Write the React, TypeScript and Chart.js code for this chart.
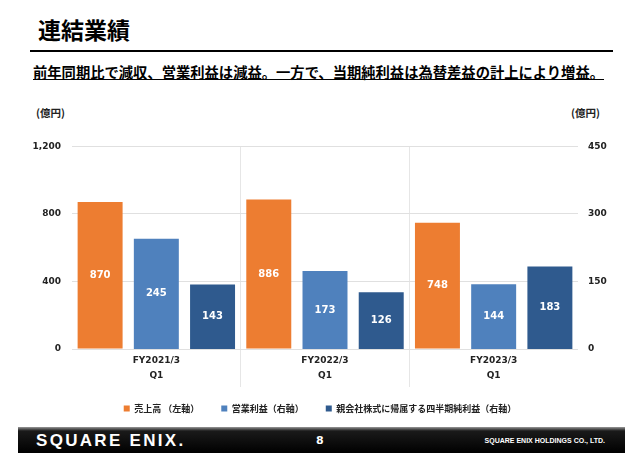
import React, { useEffect, useRef } from "react";
import { Chart, registerables } from "chart.js";

Chart.register(...registerables);

const categories: string[][] = [["FY2021/3", "Q1"], ["FY2022/3", "Q1"], ["FY2023/3", "Q1"]];
const salesLabel = "売上高 （左軸）";
const opLabel = "営業利益（右軸）";
const netLabel = "親会社株式に帰属する四半期純利益（右軸）";
const sales = [870, 886, 748];
const operatingIncome = [245, 173, 144];
const netIncome = [143, 126, 183];
const leftTicks = [0, 400, 800, 1200];
const rightTicks = [0, 150, 300, 450];

const CJK = '"Noto Sans CJK JP", "DejaVu Sans", sans-serif';
const NUM = '"DejaVu Sans", sans-serif';

const valueLabels = {
  id: "valueLabels",
  afterDatasetsDraw(chart: any) {
    const ctx = chart.ctx;
    ctx.save();
    ctx.fillStyle = "#ffffff";
    ctx.font = "bold 10px " + NUM;
    ctx.textAlign = "center";
    ctx.textBaseline = "middle";
    chart.data.datasets.forEach((ds: any, di: number) => {
      const meta = chart.getDatasetMeta(di);
      meta.data.forEach((bar: any, i: number) => {
        const y = (bar.y + bar.base) / 2;
        ctx.fillText(String(ds.data[i]), bar.x, y);
      });
    });
    ctx.restore();
  },
};

export default function App() {
  const ref = useRef<HTMLCanvasElement>(null);
  useEffect(() => {
    document.body.style.margin = "0";
    const chart = new Chart(ref.current!, {
      type: "bar",
      data: {
        labels: categories,
        datasets: [
          { label: salesLabel, data: sales, backgroundColor: "#ED7D31", yAxisID: "y" },
          { label: opLabel, data: operatingIncome, backgroundColor: "#4F81BD", yAxisID: "y1" },
          { label: netLabel, data: netIncome, backgroundColor: "#2F5A8E", yAxisID: "y1" },
        ],
      },
      options: {
        animation: false,
        responsive: false,
        maintainAspectRatio: false,
        layout: { padding: { top: 4, bottom: 7, left: 0, right: 0 } },
        datasets: { bar: { categoryPercentage: 1.0, barPercentage: 0.8 } },
        plugins: {
          tooltip: { enabled: false },
          legend: {
            position: "bottom",
            labels: {
              boxWidth: 6,
              boxHeight: 6,
              padding: 22,
              color: "#222",
              font: { family: CJK, size: 9, weight: "bold" },
            },
          },
        },
        scales: {
          x: {
            grid: {
              offset: true,
              drawTicks: true,
              tickLength: 38,
              color: (c: any) => (c.index === 1 || c.index === 2 ? "#e6e6e6" : "transparent"),
              lineWidth: 1,
            },
            border: { display: false },
            ticks: {
              padding: -34,
              color: "#222",
              font: { family: NUM, size: 9, weight: "bold", lineHeight: 1.65 },
              maxRotation: 0,
            },
            afterFit: (s: any) => { s.height = 33; },
          },
          y: {
            position: "left",
            min: 0,
            max: 1200,
            afterBuildTicks: (s: any) => { s.ticks = leftTicks.map((v) => ({ value: v })); },
            ticks: {
              padding: 11,
              color: "#222",
              font: { family: NUM, size: 9, weight: "bold" },
              callback: (v: any) => Number(v).toLocaleString("en-US"),
            },
            grid: { color: "#e0e0e0", drawTicks: false, lineWidth: 1 },
            border: { display: false },
            afterFit: (s: any) => { s.width = 72; },
          },
          y1: {
            position: "right",
            min: 0,
            max: 450,
            afterBuildTicks: (s: any) => { s.ticks = rightTicks.map((v) => ({ value: v })); },
            ticks: {
              padding: 10,
              color: "#222",
              font: { family: NUM, size: 9, weight: "bold" },
            },
            grid: { display: false, drawTicks: false },
            border: { display: false },
            afterFit: (s: any) => { s.width = 62; },
          },
        },
      },
      plugins: [valueLabels],
    } as any);
    return () => chart.destroy();
  }, []);

  return (
    <div style={{ position: "fixed", left: 0, top: 0, width: 640, height: 453, background: "#fff", overflow: "hidden" }}>
      <div style={{ position: "absolute", left: 38, top: 14, fontFamily: CJK, fontWeight: 700, fontSize: 23, lineHeight: "30px", color: "#000" }}>
        連結業績
      </div>
      <div style={{ position: "absolute", left: 30, top: 50, width: 583, height: 2, background: "#000" }} />
      <div style={{ position: "absolute", left: 33, top: 62, fontFamily: CJK, fontWeight: 700, fontSize: 14.3, lineHeight: "20px", color: "#000", textDecoration: "underline", whiteSpace: "nowrap" }}>
        前年同期比で減収、営業利益は減益。一方で、当期純利益は為替差益の計上により増益。
      </div>
      <div style={{ position: "absolute", left: 36, top: 105, fontFamily: CJK, fontWeight: 700, fontSize: 10.5, lineHeight: "16px", color: "#222" }}>(億円)</div>
      <div style={{ position: "absolute", left: 571, top: 105, fontFamily: CJK, fontWeight: 700, fontSize: 10.5, lineHeight: "16px", color: "#222" }}>(億円)</div>
      <canvas ref={ref} width={640} height={300} style={{ position: "absolute", left: 0, top: 130, width: 640, height: 300 }} />
      <div style={{ position: "absolute", left: 18, top: 427, width: 607, height: 26, background: "linear-gradient(#9a9a9a 0px, #555 2px, #1a1a1a 4px, #000 100%)" }}>
        <div style={{ position: "absolute", left: 18, top: 3, fontFamily: '"Liberation Sans", sans-serif', fontWeight: 700, fontSize: 17, letterSpacing: 2.3, color: "#fff", lineHeight: "22px" }}>SQUARE ENIX.</div>
        <div style={{ position: "absolute", left: 298, top: 6, fontFamily: NUM, fontWeight: 700, fontSize: 11, color: "#fff", lineHeight: "16px" }}>8</div>
        <div style={{ position: "absolute", right: 20, top: 8, fontFamily: '"Liberation Sans", sans-serif', fontWeight: 700, fontSize: 7, color: "#fff", lineHeight: "12px" }}>SQUARE ENIX HOLDINGS CO., LTD.</div>
      </div>
    </div>
  );
}
